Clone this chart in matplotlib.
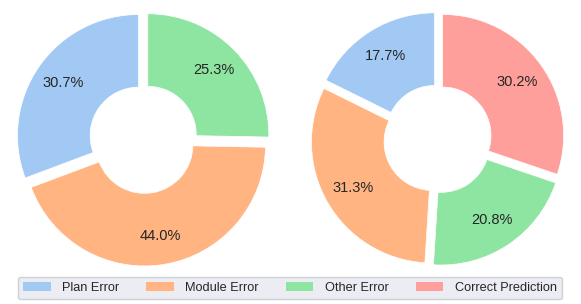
import matplotlib.pyplot as plt
from matplotlib.patches import Patch

plt.rcParams['font.family'] = ['Liberation Sans', 'DejaVu Sans']

#%% data
labels_all = ['Plan Error', 'Module Error', 'Other Error', 'Correct Prediction']
colors_all = ['#a1c9f4', '#ffb482', '#8de5a1', '#ff9f9b']

left_vals = [30.7, 44.0, 25.3]
right_vals = [17.7, 31.3, 20.8, 30.2]

#%% plot
W, H = 581, 304
fig = plt.figure(figsize=(W/100, H/100), dpi=100)

# pie radius ~121 px, pie() uses limits of +-1.25
side = 302.5
ax1 = fig.add_axes([(143.5 - side/2)/W, (165 - side/2)/H, side/W, side/H])
ax2 = fig.add_axes([(437.7 - side/2)/W, (165 - side/2)/H, side/W, side/H])

for ax, vals in zip([ax1, ax2], [left_vals, right_vals]):
    n = len(vals)
    ax.pie(vals, colors=colors_all[:n], startangle=90, explode=[0.05]*n,
           autopct='%.1f%%', pctdistance=0.76,
           wedgeprops=dict(width=0.6, edgecolor='white', linewidth=0.5),
           textprops=dict(fontsize=10.5, color='#262626'))

handles = [Patch(facecolor=c, edgecolor='none', label=l) for c, l in zip(colors_all, labels_all)]
leg = fig.legend(handles=handles, loc='center', ncol=4, fontsize=9.2, mode='expand',
                 bbox_to_anchor=(18/W, 5/H, 544/W, 22/H), frameon=True, fancybox=True,
                 facecolor='#ececf3', edgecolor='#cfcfd6', framealpha=1,
                 handlelength=2.15, handletextpad=0.9, borderpad=0.4,
                 borderaxespad=0)
for t in leg.get_texts():
    t.set_color('#262626')

plt.savefig('out.png', dpi=100)
